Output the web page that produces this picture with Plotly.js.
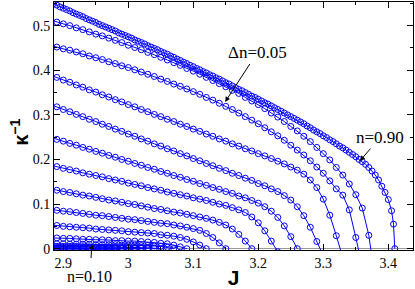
<!DOCTYPE html>
<html>
<head>
<meta charset="utf-8">
<script src="https://cdn.plot.ly/plotly-3.0.1.min.js"></script>
<style>html,body{margin:0;padding:0;background:#fff;}#chart{width:415px;height:289px;}</style>
</head>
<body>
<div id="chart"></div>
<script>
// J grid (step 0.01) shared by most curves
const J_GRID = [2.88,2.89,2.90,2.91,2.92,2.93,2.94,2.95,2.96,2.97,2.98,2.99,3.00,3.01,3.02,3.03,3.04,3.05,3.06,3.07,3.08,3.09,3.10,3.11,3.12,3.13,3.14,3.15,3.16,3.17,3.18,3.19,3.20,3.21,3.22,3.23,3.24,3.25,3.26,3.27,3.28,3.29,3.30,3.31,3.32,3.33,3.34,3.35,3.36,3.37,3.38];
// dense grid of the n=0.90 curve
const J_N90 = [2.880,2.885,2.890,2.895,2.900,2.905,2.910,2.915,2.920,2.925,2.930,2.935,2.940,2.945,2.950,2.955,2.960,2.965,2.970,2.975,2.980,2.985,2.990,2.995,3.000,3.005,3.010,3.015,3.020,3.025,3.030,3.035,3.040,3.045,3.050,3.055,3.060,3.065,3.070,3.075,3.080,3.085,3.090,3.095,3.100,3.105,3.110,3.115,3.120,3.125,3.130,3.135,3.140,3.145,3.150,3.155,3.160,3.165,3.170,3.175,3.180,3.185,3.190,3.195,3.200,3.205,3.210,3.215,3.220,3.225,3.230,3.235,3.240,3.245,3.250,3.255,3.260,3.265,3.270,3.275,3.280,3.285,3.290,3.295,3.300,3.305,3.310,3.315,3.320,3.325,3.330,3.335,3.340,3.345,3.350,3.355,3.360,3.365,3.370,3.375,3.380,3.385,3.390,3.395,3.400,3.405,3.408,3.410];

// inverse compressibility values, one array per density n
const K_N90 = [.552,.549,.546,.542,.539,.536,.533,.529,.526,.523,.520,.516,.513,.510,.507,.503,.500,.497,.494,.491,.488,.484,.481,.478,.475,.472,.468,.465,.462,.459,.455,.452,.449,.446,.442,.439,.436,.432,.429,.425,.422,.418,.415,.411,.408,.404,.401,.397,.394,.390,.387,.383,.380,.376,.372,.369,.365,.361,.357,.354,.350,.346,.342,.339,.335,.331,.327,.324,.320,.316,.312,.308,.304,.300,.296,.292,.288,.284,.280,.275,.271,.266,.262,.258,.253,.249,.244,.240,.235,.230,.226,.221,.216,.211,.206,.200,.195,.189,.182,.174,.165,.154,.140,.126,.110,.085,.055,0];
const K_N85 = [.513,.508,.504,.500,.495,.491,.486,.481,.477,.472,.467,.462,.456,.451,.446,.440,.435,.429,.423,.417,.411,.404,.398,.391,.384,.377,.370,.363,.355,.348,.339,.331,.323,.314,.304,.295,.285,.274,.264,.252,.240,.227,.213,.199,.182,.165,.145,.121,.091,.030,-.07];
const K_N80 = [.456,.452,.448,.445,.441,.437,.432,.428,.424,.419,.415,.410,.406,.401,.396,.391,.386,.380,.375,.369,.364,.358,.352,.346,.339,.333,.326,.319,.312,.304,.296,.288,.280,.271,.262,.253,.243,.232,.221,.210,.197,.183,.169,.152,.134,.120,.087,.025,-.04];
const K_N75 = [.389,.384,.378,.373,.367,.362,.356,.351,.345,.340,.334,.329,.323,.318,.312,.307,.301,.296,.290,.285,.279,.274,.268,.263,.257,.252,.246,.241,.235,.230,.224,.219,.213,.208,.202,.196,.190,.183,.176,.167,.154,.137,.111,.075,.029,-.02];
const K_N70 = [.323,.318,.312,.307,.301,.296,.290,.285,.279,.274,.268,.263,.257,.252,.246,.241,.235,.230,.224,.219,.213,.208,.202,.197,.191,.186,.180,.175,.169,.164,.158,.153,.146,.141,.134,.128,.119,.109,.094,.074,.048,.016,-.016];
const K_N65 = [.250,.245,.241,.236,.232,.227,.223,.218,.214,.209,.205,.200,.196,.191,.187,.182,.178,.173,.169,.164,.160,.155,.151,.146,.142,.137,.133,.128,.124,.118,.114,.108,.102,.094,.084,.070,.051,.027,0];
const K_N60 = [.187,.184,.180,.177,.174,.170,.167,.164,.161,.157,.154,.151,.147,.144,.141,.137,.134,.131,.127,.124,.121,.118,.114,.111,.108,.104,.100,.097,.092,.087,.081,.071,.058,.040,.017,-.007];
const K_N55 = [.134,.131,.128,.126,.123,.120,.118,.115,.112,.109,.107,.104,.101,.099,.096,.093,.090,.088,.085,.082,.080,.077,.074,.071,.068,.064,.059,.053,.044,.032,.017,0];
const K_N50 = [.088,.086,.084,.083,.081,.079,.077,.075,.074,.072,.070,.068,.066,.065,.063,.061,.059,.057,.056,.053,.051,.048,.045,.041,.034,.025,.013,0];
const K_N45 = [.053,.052,.050,.049,.048,.047,.046,.044,.043,.042,.041,.040,.038,.037,.036,.035,.034,.031,.030,.028,.025,.021,.015,.008,0];
const K_N40 = [.024,.024,.023,.023,.022,.021,.021,.020,.020,.019,.018,.018,.017,.017,.016,.015,.014,.012,.011,.008,.004,0];
const K_N35 = [.011,.011,.011,.010,.010,.010,.010,.009,.009,.009,.009,.008,.008,.008,.007,.007,.006,.005,.003,0];
const K_N30 = [.005,.005,.005,.005,.005,.004,.004,.004,.004,.004,.004,.003,.003,.003,.003,.002,.001,0];
const K_N25 = [.0025,.0025,.0024,.0023,.0022,.0021,.0020,.0019,.0018,.0017,.0015,.0013,.0011,.0008,.0004,0];
const K_N20 = [.0012,.0012,.0011,.0011,.0010,.0010,.0009,.0009,.0008,.0008,.0007,.0005,.0003,0];
const K_N15 = [.0005,.0005,.0005,.0004,.0004,.0004,.0003,.0003,.0003,.0002,.0001,0];
const K_N10 = [.0002,.0002,.0002,.0002,.0001,.0001,.0001,.0001,.0001,0];

const GRID_SERIES = [K_N10,K_N15,K_N20,K_N25,K_N30,K_N35,K_N40,K_N45,K_N50,K_N55,K_N60,K_N65,K_N70,K_N75,K_N80,K_N85];

const BLUE = 'rgb(0,0,255)';
function curve(xs, ys) {
  return {
    x: xs, y: ys, type: 'scatter', mode: 'lines+markers',
    line: {color: BLUE, width: 1},
    marker: {symbol: 'circle-open', size: 6, color: BLUE, line: {width: 1, color: BLUE}},
    showlegend: false, hoverinfo: 'skip'
  };
}
const traces = GRID_SERIES.map(ys => curve(J_GRID.slice(0, ys.length), ys));
traces.push(curve(J_N90, K_N90));

const serif = 'Liberation Serif, Times New Roman, serif';
const sans = 'Liberation Sans, Arial, sans-serif';
const axisBase = {
  showgrid: false, showline: true, linecolor: '#000', linewidth: 1, mirror: 'ticks',
  ticks: 'inside', ticklen: 6, tickwidth: 1, tickcolor: '#000',
  tickfont: {family: serif, size: 14, color: '#000'},
  minor: {ticks: 'inside', ticklen: 3, tickwidth: 1, tickcolor: '#000'}
};
const arrowStyle = {showarrow: true, arrowhead: 2, arrowsize: 1, arrowwidth: 1, arrowcolor: '#000', standoff: 0};

const layout = {
  width: 415, height: 289,
  margin: {l: 54, r: 2, t: 2, b: 39},
  paper_bgcolor: '#fff', plot_bgcolor: '#fff',
  xaxis: Object.assign({}, axisBase, {
    range: [2.8857, 3.438], tick0: 2.9, dtick: 0.1, zeroline: false,
    minor: Object.assign({}, axisBase.minor, {dtick: 0.05}),
    title: {text: '<b>J</b>', font: {family: sans, size: 21, color: '#000'}, standoff: 12}
  }),
  yaxis: Object.assign({}, axisBase, {
    range: [-0.003, 0.553], tick0: 0, dtick: 0.1,
    zeroline: true, zerolinecolor: '#999', zerolinewidth: 1,
    minor: Object.assign({}, axisBase.minor, {dtick: 0.05})
  }),
  annotations: [
    {xref: 'paper', yref: 'paper', x: -0.095, y: 0.476, text: '<b>κ<sup>−1</sup></b>', textangle: -90,
     showarrow: false, xanchor: 'center', yanchor: 'middle', font: {family: sans, size: 20, color: '#000'}},
    Object.assign({x: 3.149, y: 0.329, xref: 'x', yref: 'y', ax: 3.198, ay: 0.4387, axref: 'x', ayref: 'y',
     text: 'Δn=0.05', font: {family: serif, size: 17, color: '#000'}, startstandoff: 0}, arrowStyle),
    Object.assign({x: 3.3565, y: 0.197, xref: 'x', yref: 'y', ax: 3.3872, ay: 0.249, axref: 'x', ayref: 'y',
     text: 'n=0.90', font: {family: serif, size: 17, color: '#000'}, startstandoff: 0}, arrowStyle),
    Object.assign({x: 2.944, y: 0.0104, xref: 'x', yref: 'y', ax: -2, ay: 32,
     text: 'n=0.10', font: {family: serif, size: 16, color: '#000'}, startstandoff: 8}, arrowStyle)
  ]
};

Plotly.newPlot('chart', traces, layout, {staticPlot: true, displayModeBar: false});
</script>
</body>
</html>
